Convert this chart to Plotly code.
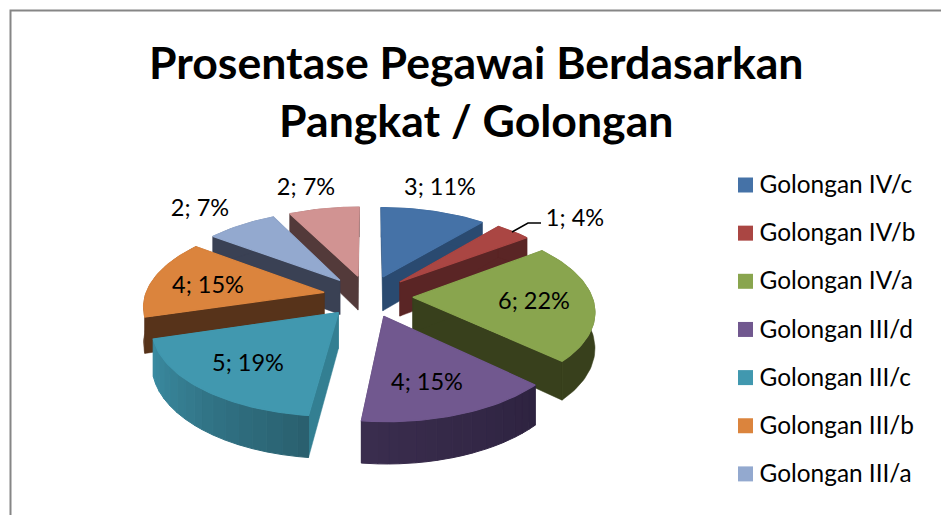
import math
import plotly.graph_objects as go

categories = ["Golongan IV/c", "Golongan IV/b", "Golongan IV/a", "Golongan III/d",
              "Golongan III/c", "Golongan III/b", "Golongan III/a", "Golongan II"]
values = [3, 1, 6, 4, 5, 4, 2, 2]
percents = [11, 4, 22, 15, 19, 15, 7, 7]
legend_count = 7

top_colors = ["#4572a7", "#aa4643", "#89a54e", "#71588f", "#4198af", "#db843d", "#93a9cf", "#d19392"]
wall_colors = ["#2a4a70", "#5a2525", "#38401c", "#2f233f", "#337f92", "#57331a", "#3a4154", "#533a3a"]
arc_colors = [("#2a4a70", "#2a4a70"), ("#5a2525", "#5a2525"), ("#38401c", "#38401c"),
              ("#2e2340", "#3a2d4e"), ("#2a606f", "#3a8ba1"), ("#57331a", "#57331a"),
              ("#3a4154", "#3a4154"), ("#533a3a", "#533a3a")]
label_xy = [(440, 189), (575, 220), (534, 303), (427, 384), (248, 365), (208, 287), (200, 210), (306, 189)]

W, H = 941, 515
CX, CY, RX, RY, K, EXPLODE, DEPTH = 368, 296, 179, 84, 0.141, 0.25, 35
FONT = "Lato"


def project(u, v, down=False):
    s = 1 / (1 - K * v)
    return CX + RX * u * s, CY + RY * v * s + (DEPTH * s if down else 0)


def hexmix(a, b, t):
    ca = [int(a[i:i + 2], 16) for i in (1, 3, 5)]
    cb = [int(b[i:i + 2], 16) for i in (1, 3, 5)]
    return "#%02x%02x%02x" % tuple(round(x + (y - x) * t) for x, y in zip(ca, cb))


def poly(points, color, lw=0.5):
    xs, ys = zip(*points)
    return go.Scatter(x=list(xs) + [xs[0]], y=list(ys) + [ys[0]], mode="lines", fill="toself",
                      fillcolor=color, line=dict(color=color, width=lw), hoverinfo="skip", showlegend=False)


total = sum(values)
slices = []
start = 0.0
for i, val in enumerate(values):
    sweep = val / total * 2 * math.pi
    mid = start + sweep / 2
    slices.append((EXPLODE * math.sin(mid), -EXPLODE * math.cos(mid), start, start + sweep, i))
    start += sweep

fig = go.Figure()
for ax, ay, a0, a1, i in sorted(slices, key=lambda s: s[1]):
    n = max(16, int((a1 - a0) * 40))
    angs = [a0 + (a1 - a0) * j / n for j in range(n + 1)]
    rim = [(ax + math.sin(a), ay - math.cos(a)) for a in angs]
    for p in (rim[-1], rim[0]):
        fig.add_trace(poly([project(ax, ay), project(*p), project(*p, True), project(ax, ay, True)], wall_colors[i]))
    seg = 16 if arc_colors[i][0] != arc_colors[i][1] else 1
    for j in range(seg):
        lo, hi = j * n // seg, (j + 1) * n // seg
        part = rim[lo:hi + 1]
        if len(part) < 2:
            continue
        pts = [project(*p) for p in part] + [project(*p, True) for p in reversed(part)]
        fig.add_trace(poly(pts, hexmix(arc_colors[i][0], arc_colors[i][1], j / max(seg - 1, 1)), lw=1 if seg > 1 else 0.5))
    fig.add_trace(poly([project(ax, ay)] + [project(*p) for p in rim], top_colors[i], lw=1.2))

labels = [f"{v}; {p}%" for v, p in zip(values, percents)]
fig.add_trace(go.Scatter(x=[p[0] for p in label_xy], y=[p[1] for p in label_xy], mode="text", text=labels,
                         textposition="middle center", textfont=dict(family=FONT, size=23.5, color="#000000"),
                         hoverinfo="skip", showlegend=False))

# leader line of the "1; 4%" label
fig.add_trace(go.Scatter(x=[512, 528, 541], y=[232, 223, 223], mode="lines",
                         line=dict(color="#000000", width=1.5), hoverinfo="skip", showlegend=False))

# legend
lx = 745.5
ly = [185 + 48.15 * i for i in range(legend_count)]
fig.add_trace(go.Scatter(x=[lx] * legend_count, y=ly, mode="markers",
                         marker=dict(symbol="square", size=15, color=top_colors[:legend_count]),
                         hoverinfo="skip", showlegend=False))
fig.add_trace(go.Scatter(x=[lx + 14] * legend_count, y=[v + 2 for v in ly], mode="text", text=categories[:legend_count],
                         textposition="middle right", textfont=dict(family=FONT, size=24.4, color="#000000"),
                         hoverinfo="skip", showlegend=False))

fig.update_layout(
    width=W, height=H, margin=dict(l=0, r=0, t=0, b=0, autoexpand=False),
    paper_bgcolor="#ffffff", plot_bgcolor="#ffffff", showlegend=False,
    xaxis=dict(range=[0, W], visible=False, fixedrange=True),
    yaxis=dict(range=[H, 0], visible=False, fixedrange=True),
    shapes=[dict(type="rect", xref="x", yref="y", x0=10.5, y0=10.5, x1=W + 20, y1=H + 20,
                 line=dict(color="#868686", width=2), layer="below")],
    annotations=[dict(text="<b>Prosentase Pegawai Berdasarkan<br>Pangkat / Golongan</b>",
                      xref="x", yref="y", x=476, y=90, showarrow=False, align="center",
                      font=dict(family=FONT, size=44.6, color="#000000"))],
)
fig.write_html("out.html", config={"displayModeBar": False},
               post_script="document.body.style.margin='0';document.body.style.overflow='hidden';")
